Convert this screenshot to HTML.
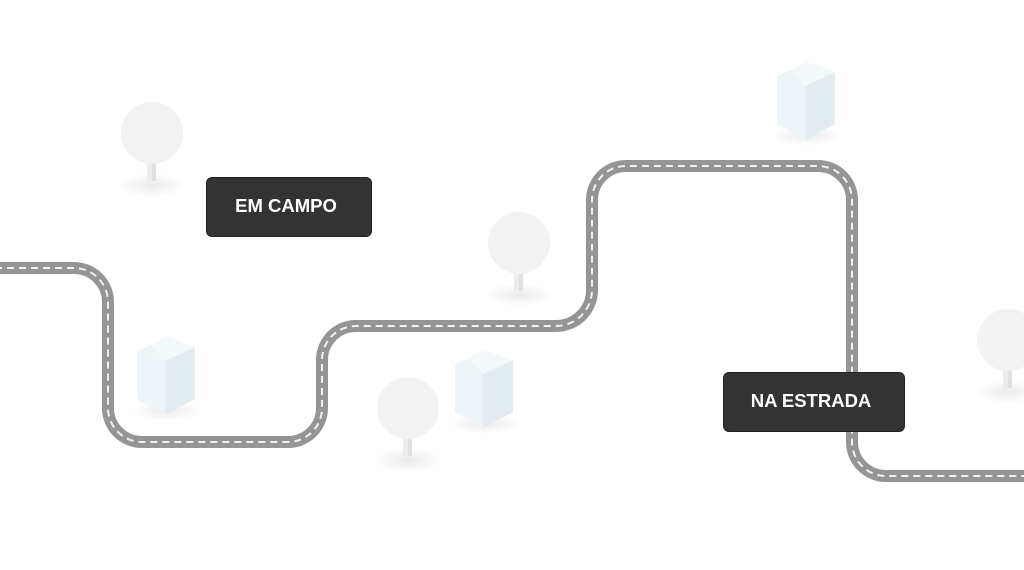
<!DOCTYPE html>
<html><head><meta charset="utf-8"><style>
html,body{margin:0;padding:0;background:#fff;width:1024px;height:570px;overflow:hidden;font-family:"Liberation Sans",sans-serif}
.lbl{position:absolute;background:#333;border-radius:6px;color:#fff;font-weight:bold;font-size:18.5px;display:flex;align-items:center;justify-content:center;border:1px solid #222;box-sizing:border-box;padding-right:6px;padding-bottom:2px}
</style></head><body>
<svg width="1024" height="570" style="position:absolute;left:0;top:0">
<defs>
<radialGradient id="sh"><stop offset="0" stop-color="#000" stop-opacity="0.08"/><stop offset="1" stop-color="#000" stop-opacity="0"/></radialGradient>
<g id="tree">
<ellipse cx="0" cy="52" rx="34" ry="12" fill="url(#sh)"/>
<rect x="-5" y="28" width="9" height="20" fill="#ececec"/>
<rect x="0" y="28" width="4" height="20" fill="#e0e0e0"/>
<circle cx="0" cy="0" r="31" fill="#f2f2f2"/>
</g>
<g id="house">
<ellipse cx="30" cy="74" rx="36" ry="10" fill="url(#sh)"/>
<polygon points="0,14 14,8 28,24 28,78 0,62" fill="#eef5f8"/>
<polygon points="28,24 58,10 58,62 28,78" fill="#e3ecf0"/>
<polygon points="14,8 30,0 58,10 28,24" fill="#f3f9fb"/>
</g>
</defs>
<use href="#tree" x="152" y="133"/>
<use href="#tree" x="519" y="243"/>
<use href="#tree" x="408" y="408"/>
<use href="#tree" x="1008" y="340"/>
<use href="#house" x="137" y="337"/>
<use href="#house" x="455" y="350"/>
<use href="#house" x="777" y="62"/>
<path d="M-5 268 H74 A34 34 0 0 1 108 302 V408 A34 34 0 0 0 142 442 H288 A34 34 0 0 0 322 408 V360 A34 34 0 0 1 356 326 H556 A36 36 0 0 0 592 290 V200 A34 34 0 0 1 626 166 H818 A34 34 0 0 1 852 200 V442 A34 34 0 0 0 886 476 H1030" fill="none" stroke="#959595" stroke-width="12"/>
<path d="M-5 268 H74 A34 34 0 0 1 108 302 V408 A34 34 0 0 0 142 442 H288 A34 34 0 0 0 322 408 V360 A34 34 0 0 1 356 326 H556 A36 36 0 0 0 592 290 V200 A34 34 0 0 1 626 166 H818 A34 34 0 0 1 852 200 V442 A34 34 0 0 0 886 476 H1030" fill="none" stroke="#f0f0f0" stroke-width="2" stroke-dasharray="7 5"/>
</svg>
<div class="lbl" style="left:206px;top:177px;width:166px;height:60px">EM CAMPO</div>
<div class="lbl" style="left:723px;top:372px;width:182px;height:60px">NA ESTRADA</div>
</body></html>
